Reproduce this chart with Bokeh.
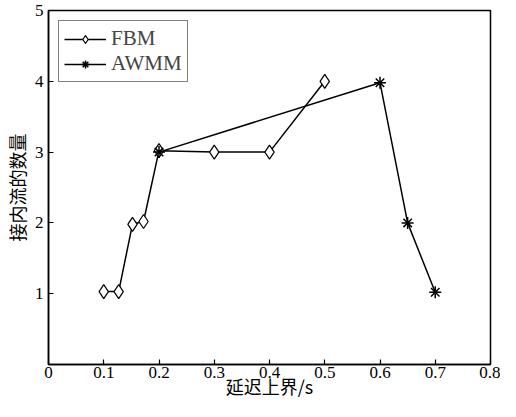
from bokeh.plotting import figure
from bokeh.models import Range1d, FixedTicker, Legend, LegendItem
from bokeh.embed import file_html
from bokeh.resources import INLINE

fbm_x = [0.1, 0.127, 0.152, 0.172, 0.2, 0.3, 0.4, 0.5]
fbm_y = [1.03, 1.03, 1.98, 2.02, 3.02, 3.0, 3.0, 4.0]
awmm_x = [0.2, 0.6, 0.65, 0.7]
awmm_y = [3.0, 3.98, 2.0, 1.02]
x_ticks = [0, 0.1, 0.2, 0.3, 0.4, 0.5, 0.6, 0.7, 0.8]
y_ticks = [1, 2, 3, 4, 5]
x_title = "延迟上界/s"
y_title = "接内流的数量"

SERIF = "Liberation Serif"
CJK = "Noto Sans CJK SC"

p = figure(width=500, height=401, output_backend="svg", toolbar_location=None,
           x_range=Range1d(0, 0.8), y_range=Range1d(0, 5),
           min_border_left=39, min_border_right=10, min_border_top=10, min_border_bottom=36)
p.xgrid.visible = False
p.ygrid.visible = False
p.outline_line_color = "black"
p.outline_line_width = 1.5
p.background_fill_color = "white"

for ax in (p.xaxis[0], p.yaxis[0]):
    ax.major_tick_in = 5
    ax.major_tick_out = 0
    ax.minor_tick_line_color = None
    ax.axis_line_color = "black"
    ax.axis_line_width = 1.5
    ax.major_tick_line_width = 1.2
    ax.major_label_text_font = SERIF
    ax.major_label_text_font_size = "17px"
    ax.major_label_text_color = "black"
    ax.axis_label_text_font = CJK
    ax.axis_label_text_font_size = "18px"
    ax.axis_label_text_font_style = "normal"
    ax.axis_label_text_color = "black"

p.xaxis.ticker = FixedTicker(ticks=x_ticks)
p.yaxis.ticker = FixedTicker(ticks=y_ticks)
p.xaxis.major_label_overrides = {0: "0"}
p.xaxis.axis_label = x_title
p.yaxis.axis_label = y_title
p.xaxis.major_label_standoff = 2
p.yaxis.major_label_standoff = 5
p.xaxis.axis_label_standoff = -8
p.yaxis.axis_label_standoff = 2

l1 = p.line(fbm_x, fbm_y, line_color="black", line_width=1.5)
s1 = p.scatter(fbm_x, fbm_y, marker="diamond", size=14, fill_color="white",
               line_color="black", line_width=1.2)
l2 = p.line(awmm_x, awmm_y, line_color="black", line_width=1.5)
s2 = p.scatter(awmm_x, awmm_y, marker="asterisk", size=12, line_color="black",
               line_width=1.5)

legend = Legend(items=[LegendItem(label="FBM", renderers=[l1, s1]),
                       LegendItem(label="AWMM", renderers=[l2, s2])],
                location="top_left")
legend.margin = 10
legend.padding = 5
legend.spacing = 0
legend.glyph_width = 42
legend.glyph_height = 20
legend.label_height = 20
legend.label_standoff = 5
legend.label_text_font = SERIF
legend.label_text_font_size = "21px"
legend.label_text_baseline = "middle"
legend.border_line_color = "black"
legend.border_line_width = 1.5
legend.background_fill_alpha = 1
p.add_layout(legend)

open("out.html", "w").write(file_html(p, INLINE))
